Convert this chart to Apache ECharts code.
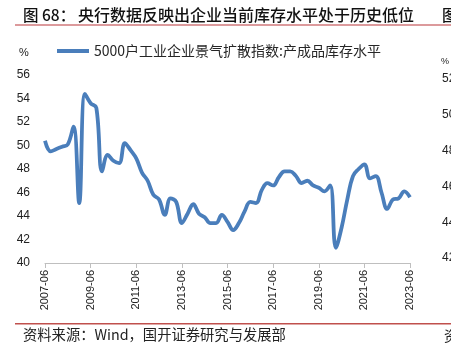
<!DOCTYPE html>
<html>
<head>
<meta charset="utf-8">
<script src="https://cdn.jsdelivr.net/npm/echarts@6/dist/echarts.min.js"></script>
<style>
html,body{margin:0;padding:0;background:#fff;}
#c{width:451px;height:349px;}
</style>
</head>
<body>
<div id="c"></div>
<script>
var categories = [
 '2007-06','2007-09','2007-12','2008-03','2008-06','2008-09','2008-12',
 '2009-03','2009-06','2009-09','2009-12','2010-03','2010-06','2010-09','2010-12',
 '2011-03','2011-06','2011-09','2011-12','2012-03','2012-06','2012-09','2012-12',
 '2013-03','2013-06','2013-09','2013-12','2014-03','2014-06','2014-09','2014-12',
 '2015-03','2015-06','2015-09','2015-12','2016-03','2016-06','2016-09','2016-12',
 '2017-03','2017-06','2017-09','2017-12','2018-03','2018-06','2018-09','2018-12',
 '2019-03','2019-06','2019-09','2019-12','2020-03','2020-06','2020-09','2020-12',
 '2021-03','2021-06','2021-09','2021-12','2022-03','2022-06','2022-09','2022-12',
 '2023-03','2023-06'
];
var inventoryLevel = [
 50.4,49.5,49.7,49.9,50.1,51.6,45.1,
 54.4,53.6,53.2,47.8,49.2,48.7,48.5,50.2,
 49.6,48.9,47.7,47.0,45.8,45.4,44.1,45.5,
 45.2,43.4,44.2,45.0,44.2,43.9,43.4,43.4,
 44.1,43.5,42.8,43.4,44.4,45.2,45.1,46.2,
 46.8,46.6,47.3,47.8,47.8,47.4,46.8,47.0,
 46.6,46.4,46.1,46.6,41.3,43.0,45.4,47.4,
 48.0,48.4,47.2,47.4,46.0,44.6,45.4,45.5,
 46.1,45.6
];
var seriesName = '5000户工业企业景气扩散指数:产成品库存水平';
var titlePrefix = '图 68：';
var titleText = '央行数据反映出企业当前库存水平处于历史低位';
var sourceText = '资料来源：Wind，国开证券研究与发展部';
var neighbourTicks = ['52','50','48','46','44','42'];
var neighbourTickY = [79,115,151,187,223,258];

var chart = echarts.init(document.getElementById('c'), null, {renderer:'canvas'});
var cjk = '"Noto Sans CJK SC", sans-serif';
var graphics = [
  {type:'text', x:23, y:15, style:{text:titlePrefix, font:'500 15.5px ' + cjk, fill:'#111', verticalAlign:'middle'}},
  {type:'text', x:78, y:15, style:{text:titleText, font:'500 16px ' + cjk, fill:'#111', verticalAlign:'middle'}},
  {type:'rect', shape:{x:15, y:24, width:436, height:2}, style:{fill:'#dc9a9c'}},
  {type:'rect', shape:{x:15, y:323, width:436, height:1.5}, style:{fill:'#c0504d'}},
  {type:'text', left:23, top:327, style:{text:sourceText, font:'14.3px ' + cjk, fill:'#222'}},
  {type:'text', x:24, y:53, style:{text:'%', font:'11px "Liberation Sans", sans-serif', fill:'#222', align:'center', verticalAlign:'middle'}},
  {type:'text', x:442, y:15, style:{text:'图', font:'500 15.5px ' + cjk, fill:'#111', verticalAlign:'middle'}},
  {type:'text', x:444, y:336, style:{text:'资', font:'14px ' + cjk, fill:'#222', verticalAlign:'middle'}},
  {type:'text', x:441, y:62, style:{text:'%', font:'9px "Liberation Sans", sans-serif', fill:'#222', verticalAlign:'middle'}}
];
neighbourTicks.forEach(function(t, i){
  graphics.push({type:'text', x:442, y:neighbourTickY[i], style:{text:t, font:'12px "Liberation Sans", sans-serif', fill:'#222', verticalAlign:'middle'}});
});

chart.setOption({
  animation:false,
  backgroundColor:'#fff',
  graphic: graphics,
  legend:{
    left:57, top:44, padding:0, itemGap:0,
    icon:'rect', itemWidth:32, itemHeight:4,
    textStyle:{fontSize:14, color:'#262626', fontFamily:cjk},
    data:[seriesName]
  },
  grid:{left:45, right:41, top:75, bottom:86, containLabel:false},
  xAxis:{
    type:'category', data:categories, boundaryGap:false,
    axisLine:{show:true, lineStyle:{color:'#bfbfbf', width:1}},
    axisTick:{show:true, interval:7, length:5, lineStyle:{color:'#bfbfbf'}},
    axisLabel:{interval:7, rotate:90, fontSize:11, color:'#222', margin:7, fontFamily:'"Liberation Sans", sans-serif'},
    splitLine:{show:false}
  },
  yAxis:{
    type:'value', min:40, max:56, interval:2,
    axisLine:{show:false}, axisTick:{show:false}, splitLine:{show:false},
    axisLabel:{fontSize:12, color:'#222', margin:15, fontFamily:'"Liberation Sans", sans-serif'}
  },
  series:[{
    name:seriesName, type:'line', data:inventoryLevel,
    symbol:'none', smooth:0.4,
    lineStyle:{color:'#4a7ebb', width:3.8},
    itemStyle:{color:'#4a7ebb'}
  }]
});
</script>
</body>
</html>
